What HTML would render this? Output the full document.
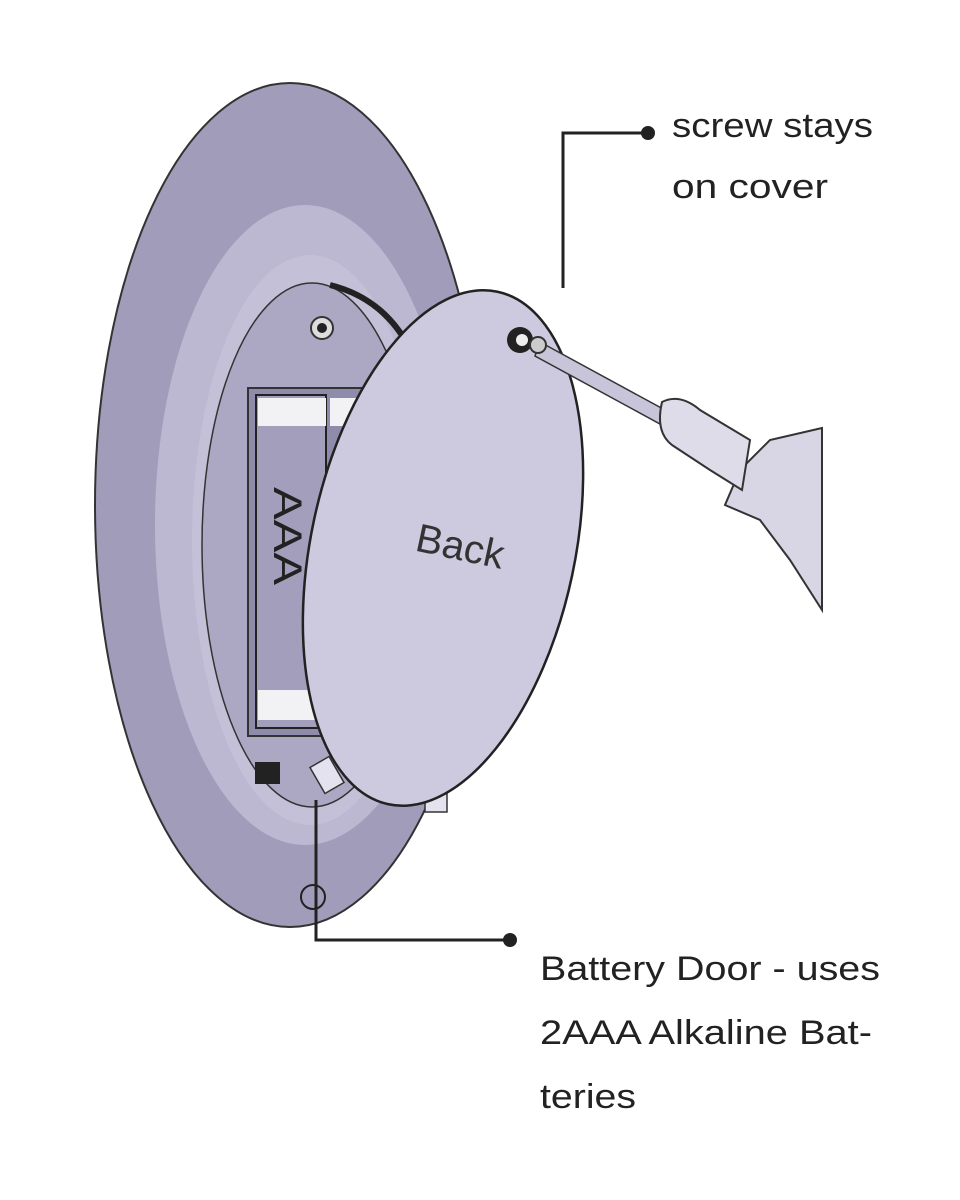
<!DOCTYPE html>
<html><head><meta charset="utf-8"><style>
html,body{margin:0;padding:0;background:#fff;}
svg{display:block;}
text{font-family:"Liberation Sans",sans-serif;}
</style></head><body>
<svg width="960" height="1200" viewBox="0 0 960 1200" xmlns="http://www.w3.org/2000/svg">
<rect width="960" height="1200" fill="#fff"/>
<!-- remote body -->
<ellipse cx="290" cy="505" rx="195" ry="422" fill="#a19cba" stroke="#333" stroke-width="2"/>
<ellipse cx="305" cy="525" rx="150" ry="320" fill="#bdb8d2"/>
<ellipse cx="310" cy="540" rx="118" ry="285" fill="#c4c0d8"/>
<!-- compartment -->
<ellipse cx="312" cy="545" rx="110" ry="262" fill="#aca8c4" stroke="#333" stroke-width="1.5"/>
<path d="M330 285 Q390 300 415 360" stroke="#222" stroke-width="6" fill="none"/>
<circle cx="322" cy="328" r="11" fill="#ddd" stroke="#333" stroke-width="2"/>
<circle cx="322" cy="328" r="5" fill="#222"/>
<!-- battery bay -->
<rect x="248" y="388" width="140" height="348" fill="#8f8bab" stroke="#333" stroke-width="2"/>
<rect x="256" y="395" width="70" height="333" fill="#a29ebc" stroke="#222" stroke-width="2"/>
<rect x="258" y="398" width="68" height="28" fill="#f2f2f5"/>
<rect x="330" y="398" width="50" height="28" fill="#f2f2f5"/>
<rect x="258" y="690" width="68" height="30" fill="#f2f2f5"/>
<text x="0" y="0" font-size="40" fill="#222" textLength="98" lengthAdjust="spacingAndGlyphs" transform="translate(274,487) rotate(90)">AAA</text>
<rect x="255" y="762" width="25" height="22" fill="#222"/>
<rect x="316" y="760" width="22" height="30" fill="#e4e2ee" stroke="#333" stroke-width="1.5" transform="rotate(-30 327 775)"/>
<rect x="425" y="790" width="22" height="22" fill="#e4e2ee" stroke="#333" stroke-width="1.5"/>
<!-- cover -->
<ellipse cx="443" cy="548" rx="132" ry="262" fill="#cdcadf" stroke="#222" stroke-width="2.5" transform="rotate(12 443 548)"/>
<text x="415" y="560" font-size="40" fill="#333" transform="rotate(12 460 550)">Back</text>
<!-- screwdriver & hand -->
<path d="M822 428 L770 440 L740 470 L725 505 L760 520 L790 560 L822 610 Z" fill="#d8d6e4" stroke="#333" stroke-width="2"/>
<path d="M540 342 L665 410 L660 424 L535 356 Z" fill="#c8c5da" stroke="#333" stroke-width="1.5"/>
<path d="M662 402 Q680 393 700 410 L750 440 L742 490 L710 470 L672 445 Q655 432 662 402 Z" fill="#dedce9" stroke="#333" stroke-width="2"/>
<circle cx="520" cy="340" r="13" fill="#222"/>
<circle cx="522" cy="340" r="6" fill="#eee"/>
<circle cx="538" cy="345" r="8" fill="#ccc" stroke="#333" stroke-width="2"/>
<!-- leader lines -->
<polyline points="563,288 563,133 648,133" fill="none" stroke="#222" stroke-width="3"/>
<circle cx="648" cy="133" r="7" fill="#222"/>
<circle cx="313" cy="897" r="12" fill="none" stroke="#222" stroke-width="2"/>
<polyline points="316,800 316,940 510,940" fill="none" stroke="#222" stroke-width="3"/>
<circle cx="510" cy="940" r="7" fill="#222"/>
<text x="672" y="137" font-size="34" fill="#222" textLength="201" lengthAdjust="spacingAndGlyphs">screw stays</text>
<text x="672" y="198" font-size="34" fill="#222" textLength="156" lengthAdjust="spacingAndGlyphs">on cover</text>
<text x="540" y="980" font-size="34" fill="#222" textLength="340" lengthAdjust="spacingAndGlyphs">Battery Door - uses</text>
<text x="540" y="1044" font-size="34" fill="#222" textLength="332" lengthAdjust="spacingAndGlyphs">2AAA Alkaline Bat-</text>
<text x="540" y="1108" font-size="34" fill="#222" textLength="96" lengthAdjust="spacingAndGlyphs">teries</text>
</svg>
</body></html>
